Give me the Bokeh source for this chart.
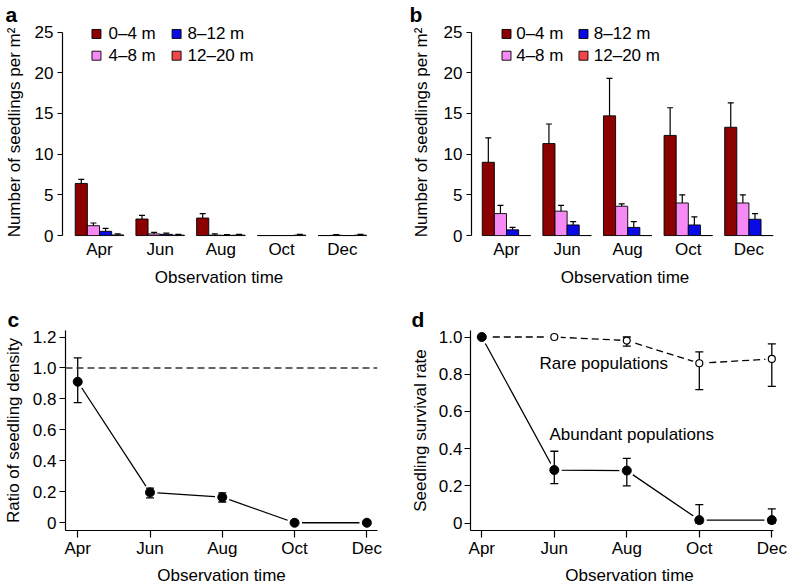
from bokeh.plotting import figure
from bokeh.layouts import column, row
from bokeh.models import Range1d, FixedTicker, CustomJSTickFormatter, Span
from bokeh.embed import file_html
from bokeh.resources import INLINE
from bokeh.core.properties import value

FONT = "Liberation Sans"
FS = "17px"

# ---------------- data ----------------
months = ["Apr", "Jun", "Aug", "Oct", "Dec"]
classes = ["0–4 m", "4–8 m", "8–12 m", "12–20 m"]
class_colors = ["#8B0000", "#F58AF5", "#0A0AE6", "#F04848"]
NaN = float("nan")

# panel a: means and upper error-bar ends
a_0_4 = [6.4, 2.03, 2.15, 0.0, 0.0]
a_0_4_hi = [6.9, 2.47, 2.7, NaN, NaN]
a_4_8 = [1.21, 0.2, 0.05, 0.0, 0.03]
a_4_8_hi = [1.54, 0.4, 0.2, NaN, 0.12]
a_8_12 = [0.52, 0.15, 0.03, 0.0, 0.0]
a_8_12_hi = [0.89, 0.3, 0.12, NaN, NaN]
a_12_20 = [0.08, 0.05, 0.05, 0.05, 0.05]
a_12_20_hi = [0.2, 0.15, 0.15, 0.15, 0.15]

# panel b
b_0_4 = [9.0, 11.3, 14.7, 12.3, 13.3]
b_0_4_hi = [12.0, 13.7, 19.3, 15.7, 16.3]
b_4_8 = [2.7, 3.0, 3.6, 4.0, 4.0]
b_4_8_hi = [3.7, 3.7, 3.9, 5.0, 5.0]
b_8_12 = [0.7, 1.3, 1.0, 1.3, 2.0]
b_8_12_hi = [1.0, 1.7, 1.7, 2.3, 2.7]
b_12_20 = [0.0, 0.0, 0.0, 0.0, 0.0]
b_12_20_hi = [NaN, NaN, NaN, NaN, NaN]

bar_ticks = [0, 5, 10, 15, 20, 25]

# panel c: ratio of seedling density
c_ratio = [0.911, 0.196, 0.165, 0.0, 0.0]
c_lo = [0.776, 0.161, 0.134, NaN, NaN]
c_hi = [1.065, 0.224, 0.193, NaN, NaN]
c_ticks = [0, 0.2, 0.4, 0.6, 0.8, 1.0, 1.2]

# panel d: seedling survival rate
d_rare = [1.0, 1.0, 0.981, 0.859, 0.882]
d_rare_lo = [NaN, NaN, 0.951, 0.717, 0.735]
d_rare_hi = [NaN, NaN, 1.0, 0.920, 0.963]
d_abund = [1.0, 0.285, 0.282, 0.016, 0.016]
d_abund_lo = [NaN, 0.212, 0.200, 0.0, 0.0]
d_abund_hi = [NaN, 0.386, 0.348, 0.099, 0.076]
d_ticks = [0, 0.2, 0.4, 0.6, 0.8, 1.0]

xs = list(range(1, len(months) + 1))
month_labels = {i: m for i, m in zip(xs, months)}


def style_axes(p, letter, offset):
    p.outline_line_color = None
    p.grid.visible = False
    p.background_fill_color = "white"
    p.border_fill_color = "white"
    for ax in p.axis:
        ax.major_label_text_font = FONT
        ax.major_label_text_font_size = FS
        ax.major_label_text_color = "black"
        ax.axis_label_text_font = FONT
        ax.axis_label_text_font_size = FS
        ax.axis_label_text_font_style = "normal"
        ax.axis_label_text_color = "black"
        ax.axis_line_color = "black"
        ax.axis_line_width = 1.2
        ax.major_tick_line_color = "black"
        ax.major_tick_line_width = 1.2
        ax.minor_tick_line_color = None
        ax.major_tick_in = 0
    p.title.text = letter
    p.title.text_font = FONT
    p.title.text_font_size = "21px"
    p.title.text_font_style = "bold"
    p.title.text_color = "black"
    p.title.align = "left"
    p.title.offset = offset
    p.title.standoff = 0


def bar_panel(series, his, letter, off, bl, br, x0, x1, ylab_standoff, leg):
    p = figure(width=394, height=292, x_range=Range1d(x0, x1),
               y_range=Range1d(-0.485, 25.8), output_backend="svg",
               toolbar_location=None, min_border_left=bl, min_border_right=br,
               min_border_top=22, min_border_bottom=53)
    style_axes(p, letter, off)
    p.yaxis.ticker = FixedTicker(ticks=bar_ticks)
    p.yaxis.bounds = (0, 25)
    p.yaxis.major_tick_out = 5
    p.yaxis.major_label_standoff = 4
    p.yaxis.axis_label = "Number of seedlings per m²"
    p.yaxis.axis_label_standoff = ylab_standoff
    p.xaxis.ticker = FixedTicker(ticks=xs)
    p.xaxis.major_label_overrides = month_labels
    p.xaxis.axis_line_color = None
    p.xaxis.major_tick_line_color = None
    p.xaxis.major_tick_out = 0
    p.xaxis.major_label_standoff = 0
    p.xaxis.axis_label = "Observation time"
    p.xaxis.axis_label_standoff = 6
    w = 0.2
    for k, (vals, hi, col) in enumerate(zip(series, his, class_colors)):
        bx = [x + (k - 1.5) * w for x in xs]
        p.vbar(x=bx, width=w, top=vals, bottom=0, fill_color=col,
               line_color="black", line_width=0.9)
        p.segment(x0=bx, y0=vals, x1=bx, y1=hi, line_color="black", line_width=1.2)
        p.scatter(x=bx, y=hi, marker="dash", size=6, line_color="black",
                  line_width=1.2)
    # legend (2 columns x 2 rows)
    lx_sq, lx_tx, lx_sq2, lx_tx2, ly1, ly2 = leg
    order = [(0, lx_sq, lx_tx, ly1), (2, lx_sq2, lx_tx2, ly1),
             (1, lx_sq, lx_tx, ly2), (3, lx_sq2, lx_tx2, ly2)]
    for k, sx, tx, sy in order:
        p.scatter(x=[sx], y=[sy], marker="square", size=9,
                  fill_color=class_colors[k], line_color="black", line_width=0.9)
        p.text(x=[tx], y=[sy], text=[classes[k]], text_font=value(FONT),
               text_font_size=FS, text_baseline="middle", text_align="left",
               text_color="black")
    return p


pa = bar_panel([a_0_4, a_4_8, a_8_12, a_12_20],
               [a_0_4_hi, a_4_8_hi, a_8_12_hi, a_12_20_hi],
               "a", -57, 62, 19, 0.3904, 5.547, 8,
               (0.95, 1.148, 2.27, 2.45, 24.76, 22.09))
pb = bar_panel([b_0_4, b_4_8, b_8_12, b_12_20],
               [b_0_4_hi, b_4_8_hi, b_8_12_hi, b_12_20_hi],
               "b", -62, 77, 10, 0.4224, 5.488, 10,
               (1.0, 1.16, 2.27, 2.44, 24.76, 22.09))


def line_panel(letter, off, bl, br, bt, bb, xr, yr, ticks, ylab, ylab_standoff,
               tick_std, xbounds=None):
    p = figure(width=394, height=295, x_range=Range1d(*xr), y_range=Range1d(*yr),
               output_backend="svg", toolbar_location=None, min_border_left=bl,
               min_border_right=br, min_border_top=bt, min_border_bottom=bb)
    style_axes(p, letter, off)
    p.yaxis.ticker = FixedTicker(ticks=ticks)
    p.yaxis.formatter = CustomJSTickFormatter(
        code="return tick == 0 ? '0' : tick.toFixed(1);")
    p.yaxis.major_tick_out = 6
    p.yaxis.major_label_standoff = tick_std
    p.yaxis.axis_label = ylab
    p.yaxis.axis_label_standoff = ylab_standoff
    p.xaxis.ticker = FixedTicker(ticks=xs)
    p.xaxis.major_label_overrides = month_labels
    p.xaxis.major_tick_out = 7
    p.xaxis.major_label_standoff = 1
    p.xaxis.axis_label = "Observation time"
    p.xaxis.axis_label_standoff = 5
    if xbounds is not None:
        p.xaxis.bounds = xbounds
    return p


def errbars(p, lo, hi, cap=8):
    p.segment(x0=xs, y0=lo, x1=xs, y1=hi, line_color="black", line_width=1.3)
    p.scatter(x=xs, y=lo, marker="dash", size=cap, line_color="black", line_width=1.3)
    p.scatter(x=xs, y=hi, marker="dash", size=cap, line_color="black", line_width=1.3)


pc = line_panel("c", -58, 63, 17, 38, 51, (0.831, 5.147), (-0.05, 1.242), c_ticks,
                "Ratio of seedling density", 7, 3)
pc.add_layout(Span(location=1.0, dimension="width", line_color="#333333",
                   line_width=1.4, line_dash="7 4"))
pc.line(xs, c_ratio, line_color="black", line_width=1.3)
pc.scatter(xs, c_ratio, size=15, fill_color="white", line_color=None)
errbars(pc, c_lo, c_hi)
pc.scatter(xs, c_ratio, size=9, fill_color="black", line_color="black")

pd_ = line_panel("d", -59, 76, 0, 37, 52, (0.8441, 5.2303), (-0.040, 1.035),
                 d_ticks, "Seedling survival rate", 6, 2, xbounds=(0.8441, 5.02))
pd_.line(xs, d_rare, line_color="black", line_width=1.3, line_dash="7 4")
pd_.line(xs, d_abund, line_color="black", line_width=1.3)
pd_.scatter(xs, d_rare, size=13, fill_color="white", line_color=None)
pd_.scatter(xs, d_abund, size=15, fill_color="white", line_color=None)
errbars(pd_, d_rare_lo, d_rare_hi)
errbars(pd_, d_abund_lo, d_abund_hi)
pd_.scatter(xs, d_rare, size=7, fill_color="white", line_color="black", line_width=1.2)
pd_.scatter(xs, d_abund, size=9, fill_color="black", line_color="black")
pd_.text(x=[1.796], y=[0.86], text=["Rare populations"], text_font=value(FONT),
         text_font_size=FS, text_baseline="middle", text_color="black")
pd_.text(x=[1.934], y=[0.478], text=["Abundant populations"], text_font=value(FONT),
         text_font_size=FS, text_baseline="middle", text_color="black")

layout = column(row(pa, pb), row(pc, pd_))
open("out.html", "w").write(file_html(layout, INLINE))
